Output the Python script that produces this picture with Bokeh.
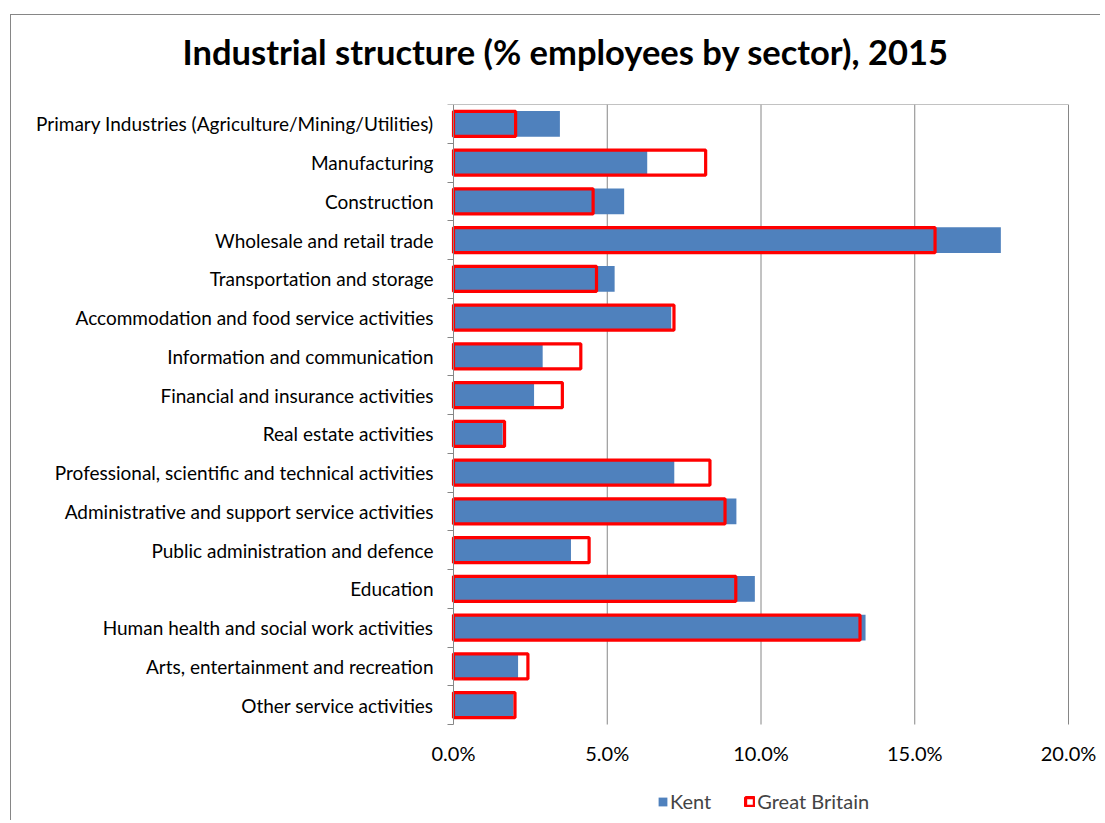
from bokeh.plotting import figure
from bokeh.layouts import column
from bokeh.models import (FixedTicker, PrintfTickFormatter, Range1d, Legend, LegendItem,
                          ColumnDataSource, LinearAxis)
from bokeh.embed import file_html
from bokeh.resources import INLINE

sectors = [
    "Primary Industries (Agriculture/Mining/Utilities)",
    "Manufacturing",
    "Construction",
    "Wholesale and retail trade",
    "Transportation and storage",
    "Accommodation and food service activities",
    "Information and communication",
    "Financial and insurance activities",
    "Real estate activities",
    "Professional, scientific and technical activities",
    "Administrative and support service activities",
    "Public administration and defence",
    "Education",
    "Human health and social work activities",
    "Arts, entertainment and recreation",
    "Other service activities",
]
kent = [3.46, 6.3, 5.55, 17.8, 5.24, 7.08, 2.9, 2.62, 1.6, 7.18, 9.2, 3.82, 9.8, 13.4, 2.1, 1.95]
gb = [2.02, 8.2, 4.54, 15.66, 4.65, 7.17, 4.14, 3.54, 1.66, 8.34, 8.83, 4.41, 9.18, 13.22, 2.42, 2.0]
x_ticks = [0, 5, 10, 15, 20]
series_names = ["Kent", "Great Britain"]

FONT = "Lato"
GRID = "#868686"
KENT_COLOR = "#4F81BD"
GB_COLOR = "#FF0000"

n = len(sectors)
pos = list(range(n))
src = ColumnDataSource(dict(y=pos, kent=kent, gb=gb))

# geometry (pixels): bar area 615 x 620, frame padded so tick labels are not clipped
BAR_W, BAR_H = 615, 620
PAD_L, PAD_R = 30, 32
FRAME_H = 717
px_per_unit = BAR_W / (x_ticks[-1] - x_ticks[0])
x_start = x_ticks[0] - PAD_L / px_per_unit
x_end = x_ticks[-1] + PAD_R / px_per_unit
y_end = -0.5 + n * FRAME_H / BAR_H

p = figure(frame_width=BAR_W + PAD_L + PAD_R, frame_height=FRAME_H,
           output_backend="svg", toolbar_location=None,
           x_range=Range1d(x_start, x_end), y_range=Range1d(y_end, -0.5),
           min_border_left=412, min_border_right=1, min_border_top=111, min_border_bottom=0,
           margin=(-22, 0, 0, 0))
p.outline_line_color = None
p.border_fill_alpha = 0

p.title.text = "Industrial structure (% employees by sector), 2015"
p.title.text_font = FONT
p.title.text_font_size = "34.5px"
p.title.text_font_style = "bold"
p.title.text_color = "black"
p.title.align = "left"
p.title.offset = -241
p.title.standoff = 66

# gridlines limited to the category area
p.segment(x0=x_ticks[1:], x1=x_ticks[1:], y0=-0.5, y1=n - 0.5,
          line_color=GRID, line_width=1)
p.segment(x0=[x_ticks[0]], x1=[x_ticks[-1]], y0=[-0.5], y1=[-0.5],
          line_color=GRID, line_width=1)

kr = p.hbar(y="y", left=0, right="kent", height=0.66, source=src,
            fill_color=KENT_COLOR, line_color=None)
gr = p.hbar(y="y", left=0, right="gb", height=0.65, source=src,
            fill_color=None, line_color=GB_COLOR, line_width=3.2)

# x axis, placed at the bottom edge of the category area
xa = p.xaxis[0]
xa.fixed_location = n - 0.5
xa.ticker = FixedTicker(ticks=x_ticks)
xa.formatter = PrintfTickFormatter(format="%.1f%%")
xa.axis_line_color = None
xa.major_tick_line_color = None
xa.minor_tick_line_color = None
xa.major_tick_out = 0
xa.minor_tick_out = 0
xa.major_label_text_font = FONT
xa.major_label_text_font_size = "20px"
xa.major_label_text_color = "black"
xa.major_label_standoff = 16

# y axis in the left panel: category labels only
ya = p.yaxis[0]
ya.ticker = FixedTicker(ticks=pos)
ya.major_label_overrides = {i: s for i, s in enumerate(sectors)}
ya.axis_line_color = None
ya.major_tick_line_color = None
ya.minor_tick_line_color = None
ya.major_tick_out = 0
ya.major_tick_in = 0
ya.minor_tick_out = 0
ya.minor_tick_in = 0
ya.major_label_text_font = FONT
ya.major_label_text_font_size = "19px"
ya.major_label_text_color = "black"
ya.major_label_standoff = -10

# axis line and category separator ticks at x = 0
ya0 = LinearAxis(fixed_location=x_ticks[0], bounds=(-0.5, n - 0.5),
                 ticker=FixedTicker(ticks=[], minor_ticks=[i - 0.5 for i in range(n + 1)]),
                 axis_line_color=GRID, major_tick_line_color=None,
                 minor_tick_line_color=GRID, minor_tick_out=6, minor_tick_in=0,
                 major_tick_out=0, major_tick_in=0)
p.add_layout(ya0, "left")

p.xgrid.visible = False
p.ygrid.visible = False

legend = Legend(items=[LegendItem(label=series_names[0], renderers=[kr]),
                       LegendItem(label=series_names[1], renderers=[gr])],
                orientation="horizontal", location=(PAD_L + 204, 8),
                border_line_color=None, background_fill_alpha=0,
                label_text_font=FONT, label_text_font_size="20px",
                glyph_width=11, glyph_height=11, label_standoff=2, spacing=33,
                padding=0, margin=0)
p.add_layout(legend, "center")

layout = column(p, margin=(15, 0, 0, 11))
layout.styles = {"box-shadow": "-1px -1px 0 0 #868686"}

open("out.html", "w").write(file_html(layout, INLINE))
